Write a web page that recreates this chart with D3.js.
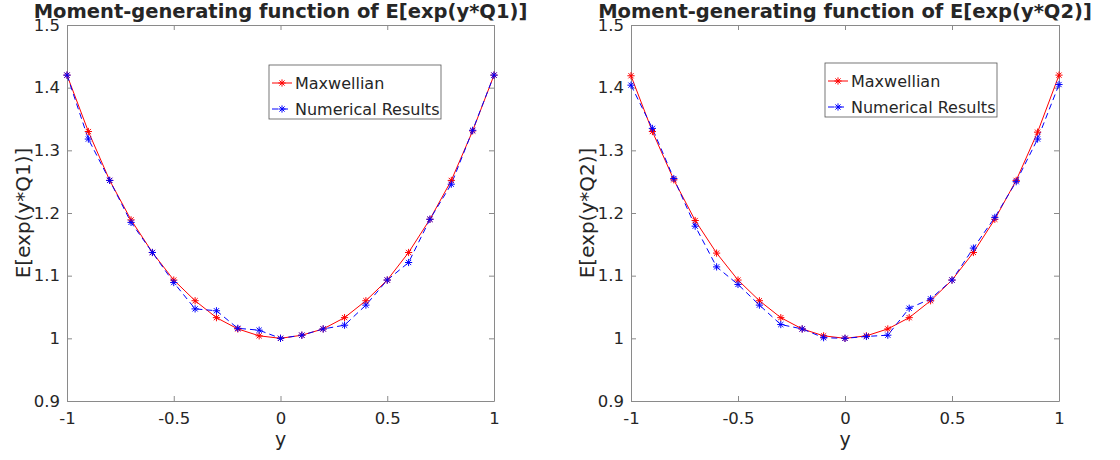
<!DOCTYPE html>
<html><head><meta charset="utf-8">
<script src="https://cdn.jsdelivr.net/npm/d3@7"></script>
<style>body{margin:0;background:#fff}svg{display:block}text{font-family:"DejaVu Sans",sans-serif;fill:#262626}</style>
</head><body><svg id="c" width="1120" height="460"></svg>
<script>
const yValues = [-1,-0.9,-0.8,-0.7,-0.6,-0.5,-0.4,-0.3,-0.2,-0.1,0,0.1,0.2,0.3,0.4,0.5,0.6,0.7,0.8,0.9,1];
const maxwellQ1 = [1.420,1.330,1.252,1.189,1.137,1.093,1.060,1.033,1.015,1.004,1.000,1.005,1.015,1.033,1.060,1.093,1.137,1.190,1.252,1.331,1.420];
const numericQ1 = [1.420,1.318,1.252,1.185,1.137,1.089,1.047,1.044,1.016,1.013,1.000,1.005,1.015,1.021,1.053,1.093,1.121,1.190,1.246,1.332,1.420];
const maxwellQ2 = [1.419,1.330,1.253,1.188,1.136,1.093,1.060,1.033,1.015,1.004,1.000,1.004,1.015,1.033,1.060,1.093,1.137,1.190,1.252,1.329,1.420];
const numericQ2 = [1.404,1.335,1.255,1.179,1.114,1.086,1.053,1.022,1.015,1.001,1.000,1.003,1.005,1.048,1.063,1.093,1.144,1.193,1.250,1.318,1.405];
const xTicks = [-1,-0.5,0,0.5,1];
const yTicks = [0.9,1,1.1,1.2,1.3,1.4,1.5];
const seriesNames = ["Maxwellian","Numerical Results"];
const titles = ["Moment-generating function of E[exp(y*Q1)]","Moment-generating function of E[exp(y*Q2)]"];
const yLabels = ["E[exp(y*Q1)]","E[exp(y*Q2)]"];

const svg = d3.select("#c");
const panels = [
  {left:67,right:494,top:25,bottom:401,m:maxwellQ1,n:numericQ1,title:titles[0],ylab:yLabels[0],ylx:23,leg:{x:269,y:65}},
  {left:631,right:1059,top:25,bottom:401,m:maxwellQ2,n:numericQ2,title:titles[1],ylab:yLabels[1],ylx:587,leg:{x:825,y:63}}
];
function star(g, x, y, color){
  const r=3.6, d=r*0.72;
  g.append("path").attr("d",`M${x-r},${y}H${x+r}M${x},${y-r}V${y+r}M${x-d},${y-d}L${x+d},${y+d}M${x-d},${y+d}L${x+d},${y-d}`)
   .attr("stroke",color).attr("stroke-width",1).attr("fill","none");
}
const axisColor="#8a8a8a";
panels.forEach(p=>{
  const x=d3.scaleLinear().domain([-1,1]).range([p.left,p.right]);
  const y=d3.scaleLinear().domain([0.9,1.5]).range([p.bottom,p.top]);
  const g=svg.append("g");
  const ax=g.append("g").attr("transform",`translate(0,${p.bottom})`)
    .call(d3.axisBottom(x).tickValues(xTicks).tickSizeInner(-5).tickSizeOuter(0).tickPadding(11).tickFormat(d=>String(d)));
  const axT=g.append("g").attr("transform",`translate(0,${p.top})`)
    .call(d3.axisTop(x).tickValues(xTicks).tickSizeInner(-5).tickSizeOuter(0).tickFormat(""));
  const ay=g.append("g").attr("transform",`translate(${p.left},0)`)
    .call(d3.axisLeft(y).tickValues(yTicks).tickSizeInner(-5).tickSizeOuter(0).tickPadding(7).tickFormat(d=>String(+d.toFixed(1))));
  const ayR=g.append("g").attr("transform",`translate(${p.right},0)`)
    .call(d3.axisRight(y).tickValues(yTicks).tickSizeInner(-5).tickSizeOuter(0).tickFormat(""));
  [ax,axT,ay,ayR].forEach(a=>{
    a.selectAll(".domain").attr("stroke",axisColor);
    a.selectAll(".tick line").attr("stroke",axisColor);
    a.selectAll("text").style("font-size","16.5px").attr("fill","#262626");
  });
  const line=d3.line().x((d,i)=>x(yValues[i])).y(d=>y(d));
  g.append("path").datum(p.m).attr("d",line).attr("fill","none").attr("stroke","#ff0000").attr("stroke-width",1);
  g.append("path").datum(p.n).attr("d",line).attr("fill","none").attr("stroke","#0000ff").attr("stroke-width",1).attr("stroke-dasharray","6,4");
  p.m.forEach((v,i)=>star(g,x(yValues[i]),y(v),"#ff0000"));
  p.n.forEach((v,i)=>star(g,x(yValues[i]),y(v),"#0000ff"));
  g.append("text").attr("x",(p.left+p.right)/2).attr("y",18).attr("text-anchor","middle")
    .style("font-size","19.5px").style("font-weight","bold").attr("fill","#000").text(p.title);
  g.append("text").attr("x",(p.left+p.right)/2).attr("y",446).attr("text-anchor","middle")
    .style("font-size","19px").text("y");
  g.append("text").attr("transform",`translate(${p.ylx},${(p.top+p.bottom)/2}) rotate(-90)`).attr("text-anchor","middle")
    .attr("dy","0.35em").style("font-size","20px").text(p.ylab);
  const L=g.append("g").attr("transform",`translate(${p.leg.x},${p.leg.y})`);
  L.append("rect").attr("width",172).attr("height",54).attr("fill","#fff").attr("stroke","#555").attr("stroke-width",0.8);
  const cols=["#ff0000","#0000ff"];
  seriesNames.forEach((s,i)=>{
    const ly=i===0?18:44;
    L.append("line").attr("x1",3).attr("x2",23).attr("y1",ly).attr("y2",ly).attr("stroke",cols[i]).attr("stroke-width",1)
      .attr("stroke-dasharray",i===1?"6,4":null);
    star(L,13,ly,cols[i]);
    L.append("text").attr("x",26).attr("y",ly).attr("dy","0.35em").style("font-size","16px").text(s);
  });
});
</script></body></html>
